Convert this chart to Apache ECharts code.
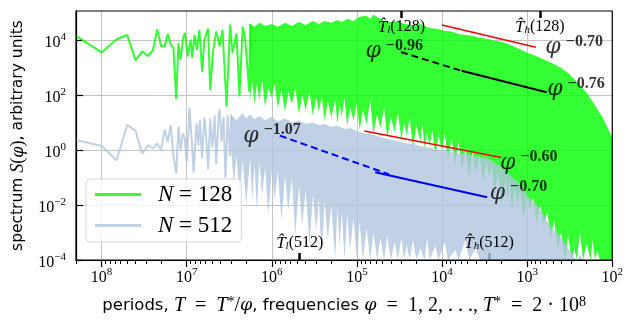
<!DOCTYPE html>
<html>
<head>
<meta charset="utf-8">
<script src="https://cdn.jsdelivr.net/npm/echarts@6.0.0/dist/echarts.min.js"></script>
<style>html, body { margin: 0; padding: 0; background: #fff; }</style>
</head>
<body>
<div id="main" style="width: 626px; height: 323px;"></div>
<script>
// spectra as [period T, S(T)]
// N = 128: single low-frequency points, then the dense band (upper / lower edge)
const line128 = [
  [2e8, 1.4e4], [1e8, 3.5e3], [6.67e7, 1.05e4], [5e7, 1.5e4], [4e7, 1.8e3], [3.33e7, 3.8e3],
  [2.86e7, 2.6e3], [2.5e7, 4.1e3], [2.22e7, 2.4e4], [2e7, 6e3], [1.82e7, 5.7e3], [1.67e7, 1.65e4],
  [1.54e7, 6.6e3], [1.43e7, 5e3], [1.33e7, 70], [1.25e7, 7.6e3], [1.18e7, 1.9e3], [1.11e7, 1.05e4],
  [1.05e7, 1.8e4], [1.01e7, 1.8e4], [9.7e6, 2.5e3], [9.0e6, 1e4], [8.6e6, 2.2e3], [8.1e6, 1.5e4],
  [7.6e6, 4.3e3], [7.1e6, 2.3e4], [6.6e6, 700], [6.2e6, 1e4], [5.6e6, 2.6e4], [5.3e6, 150],
  [4.9e6, 4e3], [4.5e6, 2e4], [4.1e6, 6e3], [3.8e6, 2.3e4], [3.4e6, 38], [3.1e6, 3.5e4],
  [2.9e6, 3.3e3], [2.6e6, 1.7e4], [2.4e6, 87], [2.2e6, 3e4], [2.05e6, 1e4], [1.84e6, 130], [1.8e6, 3.8e4]
];
const upper128 = [
  [1.8e6, 3.8e4], [1.6e6, 3.0e4], [1.4e6, 4.2e4], [1.2e6, 3.2e4], [1.0e6, 3.8e4], [8.5e5, 3.0e4],
  [7.0e5, 4.2e4], [5.8e5, 3.2e4], [4.8e5, 4.5e4], [4.0e5, 3.5e4], [3.3e5, 4.9e4], [2.8e5, 3.8e4],
  [2.4e5, 4.9e4], [2.0e5, 4.2e4], [1.7e5, 5.3e4], [1.5e5, 4.5e4], [1.3e5, 5.8e4], [1.1e5, 4.9e4],
  [9.3e4, 6.9e4], [7.7e4, 7.5e4], [7.0e4, 5.8e4], [6.4e4, 8.1e4], [5.3e4, 5.8e4], [4.8e4, 4.9e4],
  [4.0e4, 4.5e4], [3.3e4, 4.9e4], [2.8e4, 3.8e4], [2.2e4, 3.5e4], [1.8e4, 3.8e4], [1.4e4, 2.7e4],
  [1.1e4, 2.5e4], [9.3e3, 2.1e4], [7.7e3, 2.0e4], [6.4e3, 1.65e4], [5.3e3, 1.5e4], [4.4e3, 1.4e4],
  [3.6e3, 1.2e4], [3.0e3, 1.1e4], [2.4e3, 9.2e3], [2.0e3, 8.5e3], [1.6e3, 6.6e3], [1.3e3, 5.1e3],
  [1.0e3, 3.4e3], [850, 2.85e3], [700, 2.2e3], [580, 1.7e3], [480, 1.3e3], [400, 960], [330, 630],
  [280, 380], [240, 230], [200, 120], [170, 56], [150, 31], [130, 15], [120, 8.8], [110, 5.3], [100, 2.7]
];
const lower128 = [
  [1.8e6, 66], [1.7e6, 300], [1.6e6, 47], [1.5e6, 250], [1.4e6, 66], [1.3e6, 350], [1.2e6, 37],
  [1.1e6, 180], [1.0e6, 78], [9.3e5, 250], [8.5e5, 34], [7.7e5, 150], [7.0e5, 24], [6.4e5, 130],
  [5.8e5, 47], [5.3e5, 180], [4.8e5, 20], [4.4e5, 100], [4.0e5, 28], [3.6e5, 130], [3.3e5, 17],
  [3.0e5, 78], [2.8e5, 24], [2.6e5, 92], [2.4e5, 12], [2.2e5, 56], [2.0e5, 15], [1.8e5, 66],
  [1.7e5, 8.8], [1.6e5, 43], [1.5e5, 17], [1.4e5, 78], [1.3e5, 7.5], [1.2e5, 34], [1.1e5, 12],
  [1.0e5, 47], [9.3e4, 5.3], [8.5e4, 28], [7.7e4, 8.8], [7.0e4, 66], [6.4e4, 3.8], [5.8e4, 19],
  [5.3e4, 6.3], [4.8e4, 34], [4.4e4, 2.7], [4.0e4, 15], [3.6e4, 4.5], [3.3e4, 24], [3.0e4, 2.3],
  [2.8e4, 10], [2.6e4, 3.2], [2.4e4, 15], [2.2e4, 1.2], [2.0e4, 7.5], [1.8e4, 2.0], [1.7e4, 8.8],
  [1.6e4, 1.0], [1.5e4, 4.5], [1.4e4, 1.4], [1.3e4, 5.3], [1.2e4, 0.66], [1.1e4, 3.2], [1.0e4, 1.0],
  [9.3e3, 3.8], [8.5e3, 0.43], [7.7e3, 2.7], [7.0e3, 0.29], [6.4e3, 2.0], [5.8e3, 0.19], [5.3e3, 1.2],
  [4.8e3, 0.096], [4.4e3, 0.85], [4.0e3, 0.16], [3.6e3, 0.6], [3.3e3, 0.069], [3.0e3, 0.43],
  [2.8e3, 0.096], [2.6e3, 0.29], [2.4e3, 0.023], [2.2e3, 0.16], [2.0e3, 0.01], [1.8e3, 0.096],
  [1.7e3, 0.015], [1.6e3, 0.069], [1.5e3, 0.0056], [1.4e3, 0.041], [1.3e3, 0.01], [1.2e3, 0.035],
  [1.1e3, 0.0034], [1.0e3, 0.021], [930, 0.0066], [850, 0.018], [770, 0.0024], [700, 0.01],
  [640, 0.0017], [580, 0.0056], [530, 6.3e-4], [480, 0.00285], [440, 2.3e-4], [400, 0.001],
  [360, 1e-4], [330, 7.5e-4], [300, 1e-4], [280, 2.7e-4], [260, 1e-4], [240, 0.001], [220, 1e-4],
  [200, 3.8e-4], [180, 1e-4], [170, 5.3e-4], [160, 1e-4], [150, 2.3e-4], [140, 1e-4], [100, 1e-4]
];

// N = 512
const line512 = [
  [2e8, 2.3], [1e8, 1.4], [6.67e7, 0.42], [5e7, 8.1], [4e7, 5], [3.33e7, 0.73], [2.86e7, 1.5],
  [2.5e7, 1.15], [2.22e7, 1.7], [2e7, 1.0], [1.82e7, 5.4], [1.67e7, 2], [1.54e7, 8], [1.43e7, 0.58],
  [1.33e7, 0.14], [1.25e7, 7], [1.18e7, 1.0], [1.11e7, 4], [1.05e7, 2.5], [1e7, 0.37], [9.5e6, 6],
  [9.3e6, 35], [8.7e6, 2], [8.3e6, 0.15], [7.7e6, 9], [7.3e6, 1.5], [7.0e6, 12], [6.6e6, 0.5],
  [6.2e6, 15], [5.9e6, 3], [5.6e6, 0.2], [5.3e6, 14], [5.0e6, 1.2], [4.7e6, 18], [4.5e6, 0.3],
  [4.2e6, 20], [4.1e6, 30], [3.9e6, 2], [3.7e6, 16], [3.5e6, 0.1], [3.3e6, 18], [3.1e6, 0.6], [3.0e6, 20]
];
const upper512 = [
  [3.0e6, 19], [2.6e6, 12], [2.2e6, 22], [2.0e6, 14], [1.8e6, 20], [1.6e6, 13], [1.4e6, 17],
  [1.2e6, 12], [1.0e6, 16], [8.5e5, 11], [7.0e5, 14], [5.8e5, 10], [4.8e5, 12], [4.0e5, 8.8],
  [3.3e5, 10], [2.8e5, 8.1], [2.4e5, 8.8], [2.0e5, 6.9], [1.7e5, 7.5], [1.4e5, 5.8], [1.2e5, 6.3],
  [1.0e5, 4.9], [8.5e4, 4.2], [7.0e4, 3.8], [5.8e4, 3.2], [4.8e4, 2.7], [4.0e4, 2.3], [3.3e4, 2.1],
  [2.8e4, 1.8], [2.2e4, 1.65], [1.8e4, 1.4], [1.4e4, 1.2], [1.1e4, 1.0], [9.3e3, 1.0], [7.7e3, 0.85],
  [6.4e3, 0.78], [5.3e3, 0.72], [4.4e3, 0.6], [3.6e3, 0.56], [3.0e3, 0.52], [2.4e3, 0.34],
  [2.0e3, 0.24], [1.6e3, 0.123], [1.3e3, 0.069], [1.1e3, 0.035], [930, 0.018], [770, 0.01],
  [640, 0.0043], [530, 0.0016], [440, 9.6e-4], [400, 6.3e-4], [360, 4.2e-4], [330, 2.7e-4],
  [300, 1.8e-4], [280, 1.2e-4], [260, 1e-4], [240, 1.5e-4], [220, 1e-4]
];
const lower512 = [
  [3.0e6, 1.0], [2.8e6, 0.053], [2.6e6, 0.66], [2.4e6, 0.023], [2.2e6, 0.43], [2.0e6, 0.01],
  [1.8e6, 0.51], [1.7e6, 0.015], [1.6e6, 0.29], [1.5e6, 0.0066], [1.4e6, 0.37], [1.3e6, 0.023],
  [1.2e6, 0.22], [1.1e6, 0.0043], [1.0e6, 0.19], [9.3e5, 0.015], [8.5e5, 0.16], [7.7e5, 0.00285],
  [7.0e5, 0.11], [6.4e5, 0.0066], [5.8e5, 0.096], [5.3e5, 8.1e-4], [4.8e5, 0.053], [4.4e5, 0.0019],
  [4.0e5, 0.035], [3.6e5, 3.5e-4], [3.3e5, 0.023], [3.0e5, 0.00123], [2.8e5, 0.018], [2.6e5, 1.3e-4],
  [2.4e5, 0.015], [2.2e5, 5.3e-4], [2.0e5, 0.01], [1.8e5, 1e-4], [1.7e5, 0.0078], [1.6e5, 3.5e-4],
  [1.5e5, 0.0056], [1.4e5, 1e-4], [1.3e5, 0.0043], [1.2e5, 2.3e-4], [1.1e5, 0.0034], [1.0e5, 1e-4],
  [9.3e4, 0.0024], [8.5e4, 1e-4], [7.7e4, 0.00146], [7.0e4, 1e-4], [6.4e4, 0.001], [5.8e4, 1e-4],
  [5.3e4, 6.3e-4], [4.8e4, 1e-4], [4.4e4, 8.1e-4], [4.0e4, 1e-4], [3.6e4, 4.5e-4], [3.3e4, 1e-4],
  [3.0e4, 6.3e-4], [2.8e4, 1e-4], [2.6e4, 3.5e-4], [2.4e4, 1e-4], [2.2e4, 5.3e-4], [2.0e4, 1e-4],
  [1.8e4, 2.7e-4], [1.6e4, 1e-4], [1.5e4, 6.3e-4], [1.4e4, 1e-4], [1.2e4, 3.2e-4], [1.1e4, 1e-4],
  [9.3e3, 4.5e-4], [8.5e3, 1e-4], [7.0e3, 2.3e-4], [6.4e3, 1e-4], [5.3e3, 5.3e-4], [4.8e3, 1e-4],
  [4.0e3, 2.7e-4], [3.6e3, 1e-4], [220, 1e-4]
];

// power-law fits, [start, end]
const fitHigh128 = [[1.0e4, 3.5e4], [790, 5.4e3]];
const fitMid128 = [[3.04e4, 3.6e3], [5.9e3, 750]];
const fitLow128 = [[5.9e3, 750], [590, 125]];
const fitHigh512 = [[8.2e4, 4.9], [2.0e3, 0.53]];
const fitMid512 = [[8.05e5, 3.3], [4.2e4, 0.13]];
const fitLow512 = [[6.1e4, 0.155], [2.95e3, 0.019]];
const fitExponents = ['−0.96', '−0.70', '−0.76', '−1.07', '−0.60', '−0.70'];

// estimated period bounds T_l, T_h
const tMarks128 = [3.0e4, 7.1e2];
const tMarks512 = [4.7e5, 2.8e3];

const xMajor = [1e8, 1e7, 1e6, 1e5, 1e4, 1e3, 1e2];
const yMajor = [1e4, 1e2, 1, 1e-2, 1e-4];
const minorMantissa = [2, 3, 4, 5, 6, 7, 8, 9];
const xMinor = [2e8];
xMajor.slice(1).forEach(d => minorMantissa.forEach(m => xMinor.push(m * d)));

const SERIF = '"Liberation Serif", serif';
const GREEK = '"DejaVu Serif", serif';
const SANS = '"DejaVu Sans", sans-serif';
const GREEN = 'rgba(0,255,0,0.8)';
const BLUE = 'rgba(176,196,222,0.8)';
const EN = '\u2002';

function pow10(v) {
  const e = Math.round(Math.log10(v));
  return '{b|10}{s|' + (e < 0 ? '−' + (-e) : e) + '}';
}
const powRich = {
  b: { fontFamily: SERIF, fontSize: 16, lineHeight: 16, padding: [6, 0, 0, 0], color: '#000' },
  s: { fontFamily: SERIF, fontSize: 11, lineHeight: 11, verticalAlign: 'top', color: '#000' }
};

function tLabel(v) {
  const n = tMarks128.includes(v) ? 128 : 512;
  const sub = (v === tMarks128[0] || v === tMarks512[0]) ? 'l' : 'h';
  return '{t|T\u0302}{u|' + sub + '}{r|(' + n + ')}';
}
const tRich = {
  t: { fontFamily: SERIF, fontStyle: 'italic', fontSize: 17, lineHeight: 17, verticalAlign: 'top', color: '#000' },
  u: { fontFamily: SERIF, fontStyle: 'italic', fontSize: 11, lineHeight: 11, padding: [9, 0, 0, 0], verticalAlign: 'bottom', color: '#000' },
  r: { fontFamily: SERIF, fontSize: 16, lineHeight: 17, verticalAlign: 'top', color: '#000' }
};

function xAxisOf(extra) {
  return Object.assign({
    type: 'log', inverse: true, min: 100, max: 2e8, gridIndex: 0,
    axisLine: { show: false }, axisLabel: { show: false },
    axisTick: { show: false }, splitLine: { show: false }
  }, extra);
}

function band(upper, lower, color, z) {
  return {
    type: 'custom', silent: true, z: z, clip: true,
    data: [[1e4, 1]],
    renderItem: (params, api) => {
      const pts = upper.map(p => api.coord(p))
        .concat(lower.slice().reverse().map(p => api.coord(p)));
      return { type: 'polygon', shape: { points: pts }, style: { fill: color } };
    }
  };
}

function fit(data, color, width, dashed) {
  return {
    type: 'line', data: data, symbol: 'none', silent: true, z: 4,
    lineStyle: { color: color, width: width, type: dashed ? [7, 4] : 'solid' }
  };
}

const fitRich = {
  p: { fontFamily: GREEK, fontStyle: 'italic', fontSize: 22, lineHeight: 22, padding: [6, 0, 0, 0], color: '#000' },
  e: { fontFamily: SERIF, fontWeight: 'bold', fontSize: 16, lineHeight: 16, verticalAlign: 'top', padding: [0, 0, 0, 5], color: '#000' }
};
const fitAnchors = [fitMid128[0], fitHigh128[1], fitLow128[1], fitMid512[0], fitHigh512[1], fitLow512[1]];
const fitOffsets = [[-35, -14], [10, -13], [1, -16], [-36, -13], [-1, -8], [3, -18]];

let chart = echarts.init(document.getElementById('main'));
chart.setOption({
  animation: false,
  grid: { left: 76, right: 12, top: 11, bottom: 63, show: true, borderColor: '#000', borderWidth: 1.2, z: 10 },
  legend: {
    data: ['N = 128', 'N = 512'], orient: 'vertical', left: 86, top: 179,
    icon: 'rect', itemWidth: 46, itemHeight: 3, itemGap: 8, padding: [4, 9, 5, 9],
    backgroundColor: 'rgba(255,255,255,0.8)', borderColor: '#d6d6d6', borderWidth: 1, borderRadius: 4,
    formatter: n => '{i|N}{m| = ' + n.split('= ')[1] + '}',
    textStyle: {
      padding: [0, 0, 0, 12],
      rich: {
        i: { fontFamily: SERIF, fontStyle: 'italic', fontSize: 23, lineHeight: 26, color: '#000' },
        m: { fontFamily: SERIF, fontSize: 23, lineHeight: 26, color: '#000' }
      }
    }
  },
  xAxis: [
    xAxisOf({
      position: 'bottom',
      axisLine: { show: true, lineStyle: { color: '#000', width: 1.2 } },
      axisTick: { show: true, customValues: xMajor, length: 7, lineStyle: { color: '#000', width: 1.2 } },
      axisLabel: { show: true, customValues: xMajor, margin: 7, formatter: pow10, rich: powRich },
      splitLine: { show: true, lineStyle: { color: '#c4c4c4', width: 1 } },
      name: '{a|periods, }{i|T}{m|' + EN + '=' + EN + '}{i|T}{s|*}{m|/}{g|φ}{a|, frequencies }{g|φ}{m|' + EN + '=' + EN +
        '1, 2, . . ., }{i|T}{s|*}{m|' + EN + '=' + EN + '2 · 10}{s|8}',
      nameLocation: 'middle', nameGap: 32,
      nameTextStyle: {
        rich: {
          a: { fontFamily: SANS, fontSize: 16.5, lineHeight: 16, padding: [5, 0, 0, 0], color: '#000' },
          i: { fontFamily: SERIF, fontStyle: 'italic', fontSize: 20, lineHeight: 16, padding: [5, 0, 0, 0], color: '#000' },
          g: { fontFamily: GREEK, fontStyle: 'italic', fontSize: 17.5, lineHeight: 16, padding: [5, 0, 0, 0], color: '#000' },
          m: { fontFamily: SERIF, fontSize: 20, lineHeight: 16, padding: [5, 0, 0, 0], color: '#000' },
          s: { fontFamily: SERIF, fontSize: 14, lineHeight: 12, verticalAlign: 'top', color: '#000' }
        }
      }
    }),
    xAxisOf({
      position: 'bottom',
      axisTick: { show: true, customValues: xMinor, length: 4, lineStyle: { color: '#000', width: 1 } }
    }),
    xAxisOf({
      position: 'top', z: 5,
      axisTick: { show: true, inside: true, customValues: tMarks128, length: 7, lineStyle: { color: '#000', width: 2.5 } },
      axisLabel: { show: true, inside: true, customValues: tMarks128, margin: 8, formatter: tLabel, rich: tRich }
    }),
    xAxisOf({
      position: 'bottom', z: 5,
      axisTick: { show: true, inside: true, customValues: [tMarks512[0]], length: 7, lineStyle: { color: '#000', width: 2.5 } },
      axisLabel: { show: true, inside: true, customValues: tMarks512, margin: 8, formatter: tLabel, rich: tRich }
    }),
    xAxisOf({
      position: 'bottom', z: 0,
      axisTick: { show: true, inside: true, customValues: [tMarks512[1]], length: 7, lineStyle: { color: '#000', width: 2.5 } }
    })
  ],
  yAxis: {
    type: 'log', min: 1e-4, max: 1.12e5, interval: 2,
    axisLine: { show: true, lineStyle: { color: '#000', width: 1.2 } },
    axisTick: { inside: true, length: 7, customValues: yMajor, lineStyle: { color: '#000', width: 1.2 } },
    axisLabel: { customValues: yMajor, margin: 10, formatter: pow10, rich: powRich },
    splitLine: { show: true, lineStyle: { color: '#c4c4c4', width: 1 } },
    name: '{a|spectrum }{i|S}{m|(}{g|φ}{m|)}{a|, arbitrary units}',
    nameLocation: 'middle', nameRotate: 90, nameGap: 47,
    nameTextStyle: {
      rich: {
        a: { fontFamily: SANS, fontSize: 15.5, color: '#000' },
        i: { fontFamily: SERIF, fontStyle: 'italic', fontSize: 18, color: '#000' },
        g: { fontFamily: GREEK, fontStyle: 'italic', fontSize: 16, color: '#000' },
        m: { fontFamily: SERIF, fontSize: 18, color: '#000' }
      }
    }
  },
  series: [
    band(upper128, lower128, GREEN, 1),
    {
      type: 'line', name: 'N = 128', data: line128, symbol: 'none', z: 1,
      lineStyle: { color: GREEN, width: 2 }, itemStyle: { color: GREEN }
    },
    band(upper512, lower512, BLUE, 2),
    {
      type: 'line', name: 'N = 512', data: line512, symbol: 'none', z: 2,
      lineStyle: { color: BLUE, width: 2 }, itemStyle: { color: BLUE }
    },
    fit(fitHigh128, '#ff0000', 1.5, false),
    fit(fitMid128, '#000000', 2, true),
    fit(fitLow128, '#000000', 2, false),
    fit(fitHigh512, '#ff0000', 1.5, false),
    fit(fitMid512, '#0000ff', 2, true),
    fit(fitLow512, '#0000ff', 2, false),
    {
      type: 'scatter', symbolSize: 1, silent: true, clip: false, z: 5,
      itemStyle: { color: 'rgba(0,0,0,0)' },
      data: fitAnchors.map((p, i) => ({
        value: p,
        label: { show: true, position: fitOffsets[i], formatter: '{p|φ}{e|' + fitExponents[i] + '}', rich: fitRich }
      }))
    }
  ]
});
</script>
</body>
</html>
